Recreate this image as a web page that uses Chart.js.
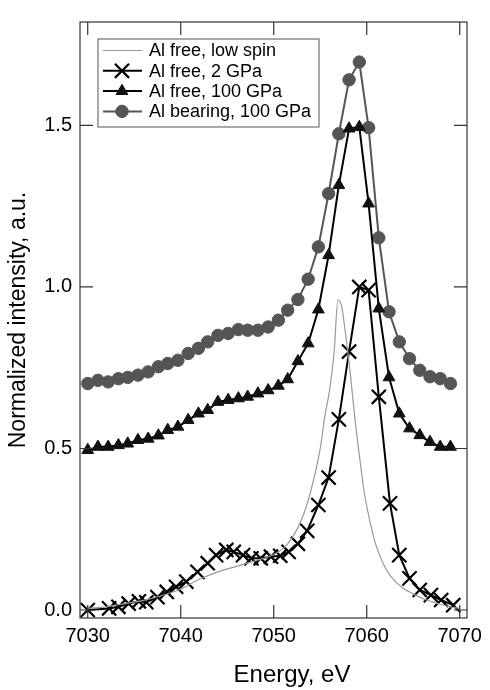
<!DOCTYPE html>
<html>
<head>
<meta charset="utf-8">
<script src="https://cdn.jsdelivr.net/npm/chart.js@4.4.1/dist/chart.umd.min.js"></script>
<style>
  body { margin: 0; background: #fff; }
  #wrap { width: 490px; height: 690px; position: relative; }
</style>
</head>
<body>
<div id="wrap"><canvas id="xasChart"></canvas></div>
<script>
// tick values for both axes
const xTickValues = [7030, 7040, 7050, 7060, 7070];
const yTickValues = [0.0, 0.5, 1.0, 1.5];

// Al free, low spin (thin gray line, no markers)
const energyLowSpin = [7030, 7032, 7034, 7036, 7038, 7040, 7042, 7044, 7046, 7048, 7050, 7051, 7052, 7053, 7054, 7055, 7055.5, 7056, 7056.5, 7056.9, 7057.3, 7057.7, 7058.2, 7058.7, 7059.2, 7059.7, 7060.3, 7061, 7062, 7063, 7064, 7065, 7066, 7067, 7068, 7069, 7070];
const intLowSpin = [0.005, 0.01, 0.02, 0.03, 0.045, 0.065, 0.095, 0.118, 0.135, 0.152, 0.172, 0.19, 0.225, 0.28, 0.37, 0.5, 0.6, 0.68, 0.8, 0.96, 0.94, 0.86, 0.74, 0.6, 0.48, 0.37, 0.28, 0.2, 0.13, 0.09, 0.066, 0.05, 0.036, 0.026, 0.017, 0.01, 0.005];

// Al free, 2 GPa (crosses)
const energy2GPa = [7030.0, 7032.3, 7033.3, 7034.4, 7035.5, 7036.3, 7037.5, 7038.5, 7039.5, 7040.6, 7041.8, 7042.9, 7043.8, 7044.9, 7045.7, 7046.7, 7047.6, 7048.6, 7049.7, 7050.7, 7051.6, 7052.6, 7053.6, 7054.8, 7055.9, 7057.0, 7058.1, 7059.2, 7060.2, 7061.3, 7062.5, 7063.5, 7064.6, 7065.7, 7066.9, 7068.0, 7069.3];
const int2GPa = [0.0, 0.005, 0.01, 0.02, 0.027, 0.024, 0.04, 0.056, 0.072, 0.088, 0.118, 0.145, 0.17, 0.186, 0.18, 0.17, 0.16, 0.16, 0.165, 0.168, 0.18, 0.205, 0.245, 0.325, 0.41, 0.59, 0.80, 1.0, 0.99, 0.66, 0.33, 0.17, 0.098, 0.062, 0.046, 0.031, 0.015];

// 100 GPa scans (triangles and circles share the energy grid)
const energy100GPa = [7030.0, 7031.1, 7032.2, 7033.3, 7034.3, 7035.4, 7036.5, 7037.6, 7038.6, 7039.7, 7040.8, 7041.9, 7042.9, 7044.0, 7045.1, 7046.2, 7047.2, 7048.3, 7049.4, 7050.5, 7051.5, 7052.6, 7053.7, 7054.8, 7055.9, 7057.0, 7058.1, 7059.2, 7060.2, 7061.3, 7062.4, 7063.5, 7064.6, 7065.7, 7066.8, 7067.9, 7069.0];
const intFree100 = [0.495, 0.505, 0.505, 0.51, 0.515, 0.526, 0.53, 0.54, 0.557, 0.567, 0.588, 0.608, 0.619, 0.644, 0.65, 0.655, 0.66, 0.67, 0.68, 0.694, 0.714, 0.77, 0.825, 0.93, 1.098, 1.315, 1.49, 1.495, 1.258, 0.933, 0.72, 0.608, 0.562, 0.541, 0.52, 0.505, 0.505];
const intBearing100 = [0.701, 0.711, 0.706, 0.716, 0.72, 0.727, 0.737, 0.753, 0.763, 0.773, 0.794, 0.81, 0.83, 0.85, 0.856, 0.868, 0.866, 0.866, 0.876, 0.897, 0.928, 0.961, 1.024, 1.124, 1.289, 1.474, 1.641, 1.696, 1.493, 1.152, 0.923, 0.83, 0.778, 0.742, 0.722, 0.716, 0.701];

const fontFamily = '"Liberation Sans", Arial, Helvetica, sans-serif';

function toPoints(xs, ys) {
    return xs.map((x, i) => ({ x: x, y: ys[i] }));
}

// frame, inward ticks, legend box and x title
const framePlugin = {
    id: 'framePlugin',
    afterDraw(chart) {
        const ctx = chart.ctx;
        const area = chart.chartArea;
        const xs = chart.scales.x;
        const ys = chart.scales.y;
        const tickLen = 13;
        ctx.save();
        ctx.strokeStyle = '#333';
        ctx.lineWidth = 1.2;
        ctx.strokeRect(area.left, area.top, area.right - area.left, area.bottom - area.top);
        ctx.beginPath();
        xTickValues.forEach(v => {
            const px = xs.getPixelForValue(v);
            ctx.moveTo(px, area.bottom);
            ctx.lineTo(px, area.bottom - tickLen);
            ctx.moveTo(px, area.top);
            ctx.lineTo(px, area.top + tickLen);
        });
        yTickValues.forEach(v => {
            const py = ys.getPixelForValue(v);
            ctx.moveTo(area.left, py);
            ctx.lineTo(area.left + tickLen, py);
            ctx.moveTo(area.right, py);
            ctx.lineTo(area.right - tickLen, py);
        });
        ctx.stroke();

        // x axis title
        ctx.fillStyle = '#000';
        ctx.font = '24px ' + fontFamily;
        ctx.textAlign = 'center';
        ctx.textBaseline = 'middle';
        ctx.fillText('Energy, eV', 292, 675);

        // legend
        const boxX = 98, boxY = 39, boxW = 221, boxH = 88;
        ctx.fillStyle = '#fff';
        ctx.fillRect(boxX, boxY, boxW, boxH);
        ctx.strokeStyle = '#555';
        ctx.lineWidth = 1;
        ctx.strokeRect(boxX, boxY, boxW, boxH);
        ctx.font = '18px ' + fontFamily;
        ctx.textAlign = 'left';
        chart.data.datasets.forEach((ds, i) => {
            const cy = 50.5 + i * 20.3;
            ctx.strokeStyle = ds.borderColor;
            ctx.lineWidth = ds.borderWidth;
            ctx.beginPath();
            ctx.moveTo(103, cy);
            ctx.lineTo(142, cy);
            ctx.stroke();
            if (ds.pointRadius > 0) {
                ctx.fillStyle = ds.pointBackgroundColor || ds.borderColor;
                ctx.strokeStyle = ds.pointBorderColor || ds.borderColor;
                ctx.lineWidth = ds.pointBorderWidth;
                Chart.helpers.drawPoint(ctx, {
                    pointStyle: ds.pointStyle,
                    radius: ds.pointRadius,
                    borderWidth: ds.pointBorderWidth,
                    rotation: 0
                }, 122, cy);
            }
            ctx.fillStyle = '#000';
            ctx.fillText(ds.label, 149, cy + 1);
        });
        ctx.restore();
    }
};

const ctx = document.getElementById('xasChart').getContext('2d');
const xasChart = new Chart(ctx, {
    type: 'line',
    data: {
        datasets: [
            {
                label: 'Al free, low spin',
                data: toPoints(energyLowSpin, intLowSpin),
                borderColor: '#9a9a9a',
                borderWidth: 1.2,
                pointRadius: 0,
                cubicInterpolationMode: 'monotone',
                fill: false
            },
            {
                label: 'Al free, 2 GPa',
                data: toPoints(energy2GPa, int2GPa),
                borderColor: '#000',
                backgroundColor: '#000',
                borderWidth: 2,
                pointStyle: 'crossRot',
                pointRadius: 10,
                pointBorderWidth: 2.2,
                pointBackgroundColor: '#000',
                pointBorderColor: '#000',
                tension: 0,
                fill: false
            },
            {
                label: 'Al free, 100 GPa',
                data: toPoints(energy100GPa, intFree100),
                borderColor: '#000',
                backgroundColor: '#000',
                borderWidth: 2,
                pointStyle: 'triangle',
                pointRadius: 6.8,
                pointBorderWidth: 1,
                pointBackgroundColor: '#111',
                pointBorderColor: '#111',
                tension: 0,
                fill: false
            },
            {
                label: 'Al bearing, 100 GPa',
                data: toPoints(energy100GPa, intBearing100),
                borderColor: '#555',
                backgroundColor: '#555',
                borderWidth: 2,
                pointStyle: 'circle',
                pointRadius: 6.2,
                pointBorderWidth: 1,
                pointBackgroundColor: '#555',
                pointBorderColor: '#555',
                tension: 0,
                fill: false
            }
        ]
    },
    options: {
        responsive: true,
        maintainAspectRatio: false,
        animation: false,
        layout: { padding: { top: 22, right: 23, left: 0, bottom: 0 } },
        plugins: {
            legend: { display: false },
            tooltip: { enabled: false }
        },
        scales: {
            x: {
                type: 'linear',
                min: 7029.17,
                max: 7070.78,
                afterBuildTicks: scale => { scale.ticks = xTickValues.map(v => ({ value: v })); },
                afterFit: scale => { scale.height = 72; },
                ticks: {
                    color: '#000',
                    font: { size: 20, family: fontFamily },
                    padding: 6,
                    maxRotation: 0,
                    autoSkip: false,
                    callback: v => String(v)
                },
                grid: { display: false, drawTicks: false },
                border: { display: false }
            },
            y: {
                type: 'linear',
                min: -0.0247,
                max: 1.82,
                afterBuildTicks: scale => { scale.ticks = yTickValues.map(v => ({ value: v })); },
                afterFit: scale => { scale.width = 80; },
                ticks: {
                    color: '#000',
                    font: { size: 20, family: fontFamily },
                    padding: 8,
                    callback: v => Number(v).toFixed(1)
                },
                grid: { display: false, drawTicks: false },
                border: { display: false },
                title: {
                    display: true,
                    text: 'Normalized intensity, a.u.',
                    color: '#000',
                    font: { size: 23, family: fontFamily },
                    padding: { top: 5, bottom: 0 }
                }
            }
        }
    },
    plugins: [framePlugin]
});
</script>
</body>
</html>
